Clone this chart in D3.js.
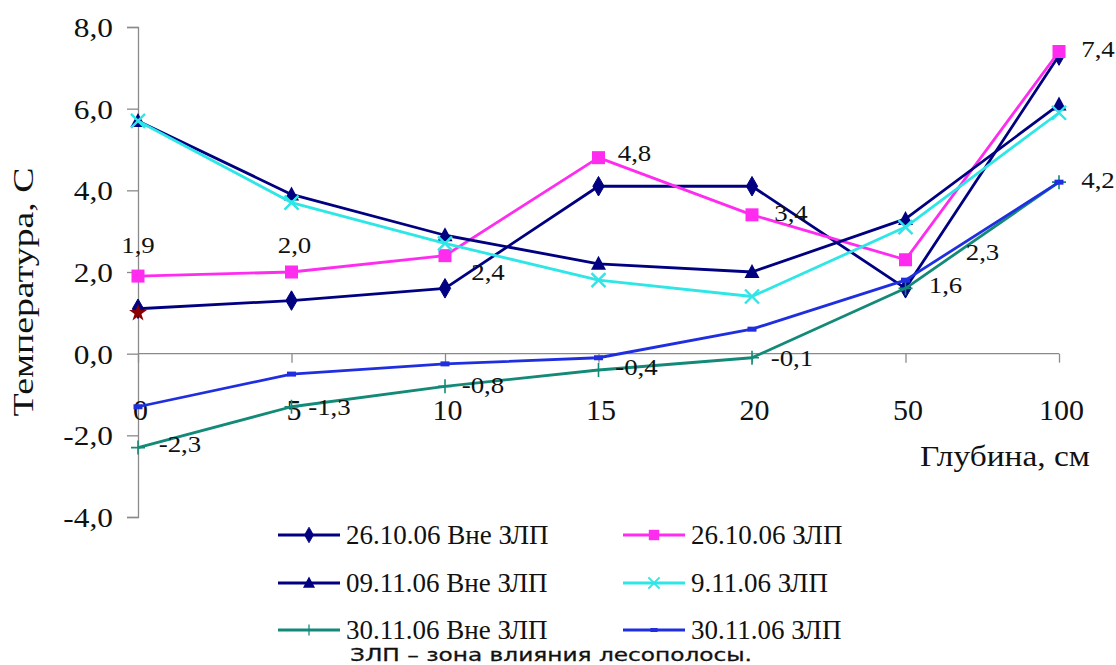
<!DOCTYPE html>
<html>
<head>
<meta charset="utf-8">
<script src="https://cdn.jsdelivr.net/npm/d3@7/dist/d3.min.js"></script>
<style>
  html, body { margin: 0; padding: 0; background: #ffffff; }
  svg { display: block; }
</style>
</head>
<body>
<svg id="chart" width="1116" height="665"></svg>
<script>
// ---------------- data ----------------
const categories = ["0", "5", "10", "15", "20", "50", "100"];
const yTicks = [-4, -2, 0, 2, 4, 6, 8];

const s1Name = "26.10.06 Вне ЗЛП";
const s1Values = [1.1, 1.3, 1.6, 4.1, 4.1, 1.6, 7.3];
const s2Name = "26.10.06 ЗЛП";
const s2Values = [1.9, 2.0, 2.4, 4.8, 3.4, 2.3, 7.4];
const s3Name = "09.11.06 Вне ЗЛП";
const s3Values = [5.7, 3.9, 2.9, 2.2, 2.0, 3.3, 6.1];
const s4Name = "9.11.06 ЗЛП";
const s4Values = [5.7, 3.7, 2.7, 1.8, 1.4, 3.1, 5.9];
const s5Name = "30.11.06 Вне ЗЛП";
const s5Values = [-2.3, -1.3, -0.8, -0.4, -0.1, 1.6, 4.2];
const s6Name = "30.11.06 ЗЛП";
const s6Values = [-1.3, -0.5, -0.25, -0.1, 0.6, 1.8, 4.2];
// stray marker at depth 0
const extraCategory = ["0"];
const extraValues = [1.0];

const yTitle = "Температура, С";
const xTitle = "Глубина, см";
const noteText = "ЗЛП – зона влияния лесополосы.";

// which points carry a data label (series id, point index)
const labelSeries = ["s2","s2","s2","s2","s2","s2","s2","s1","s5","s5","s5","s5","s5","s5"];
const labelIndex  = [0, 1, 2, 3, 4, 5, 6, 5, 0, 1, 2, 3, 4, 6];

// ---------------- styles / layout ----------------
const serif = "'Liberation Serif', 'Times New Roman', serif";
const styles = {
  s1: {color: "#000080", marker: "diamond"},
  s2: {color: "#ff2cf0", marker: "square"},
  s3: {color: "#000080", marker: "triangle"},
  s4: {color: "#2ee6e6", marker: "x"},
  s5: {color: "#138a78", marker: "plus"},
  s6: {color: "#1f2fe0", marker: "dash"}
};
// label offsets of label centre relative to point (dx, dy)
const labelOffsets = [[0,-31],[3,-27],[43,16],[36,-5],[39,-2],[77,-8],[39,-3],[40,-3],[42,-4],[38,0],[38,-1],[38,-3],[40,0],[39,-2]];

const series = [
  {id: "s1", name: s1Name, values: s1Values},
  {id: "s2", name: s2Name, values: s2Values},
  {id: "s3", name: s3Name, values: s3Values},
  {id: "s4", name: s4Name, values: s4Values},
  {id: "s5", name: s5Name, values: s5Values},
  {id: "s6", name: s6Name, values: s6Values}
];

const fmt = v => d3.format(".1f")(v).replace(".", ",").replace("\u2212", "-");

const svg = d3.select("#chart");
svg.append("rect").attr("width", 1116).attr("height", 665).attr("fill", "#fff");

const x = d3.scalePoint().domain(categories).range([138, 1059]).padding(0);
const y = d3.scaleLinear().domain([-4, 8]).range([517, 27]);

function stretch(sel, f) {
  sel.each(function() {
    const w = this.getComputedTextLength();
    d3.select(this).attr("textLength", w * f).attr("lengthAdjust", "spacingAndGlyphs");
  });
}

const axisColor = "#8a8a8a";

// Y axis
const yAxis = svg.append("g").attr("transform", "translate(138,0)")
  .call(d3.axisLeft(y).tickValues(yTicks).tickSize(11).tickPadding(14).tickFormat(fmt));
yAxis.select(".domain").attr("stroke", axisColor).attr("stroke-width", 1.3);
yAxis.selectAll(".tick line").attr("stroke", axisColor).attr("stroke-width", 1.3);
yAxis.selectAll(".tick text").attr("font-family", serif).attr("font-size", 28)
  .attr("fill", "#111").attr("dy", "0.34em");
stretch(yAxis.selectAll(".tick text"), 1.12);

// X axis (at y = 0)
const xAxis = svg.append("g").attr("transform", `translate(0,${y(0)})`)
  .call(d3.axisBottom(x).tickSize(9).tickPadding(0));
xAxis.select(".domain").attr("stroke", axisColor).attr("stroke-width", 1.3)
  .attr("d", `M${x(categories[0])},0H${x(categories[categories.length-1])}`);
xAxis.selectAll(".tick line").attr("stroke", axisColor).attr("stroke-width", 1.3);
xAxis.selectAll(".tick text").attr("font-family", serif).attr("font-size", 30)
  .attr("fill", "#111").attr("y", 0).attr("dy", 0)
  .attr("transform", `translate(2,${420 - y(0)})`);

// axis titles
svg.append("text").attr("font-family", serif).attr("font-size", 29).attr("fill", "#111")
  .attr("text-anchor", "middle")
  .attr("transform", "translate(33,292) rotate(-90)")
  .attr("textLength", 249).attr("lengthAdjust", "spacingAndGlyphs")
  .text(yTitle);
svg.append("text").attr("font-family", serif).attr("font-size", 30).attr("fill", "#111")
  .attr("x", 920).attr("y", 466)
  .attr("textLength", 170).attr("lengthAdjust", "spacingAndGlyphs")
  .text(xTitle);

// markers
function drawMarker(g, type, color) {
  if (type === "diamond") {
    g.append("path").attr("d", d3.symbol(d3.symbolDiamond, 110)()).attr("fill", color).attr("stroke", color);
  } else if (type === "square") {
    g.append("rect").attr("x", -6.5).attr("y", -6.5).attr("width", 13).attr("height", 13).attr("fill", color);
  } else if (type === "triangle") {
    g.append("path").attr("d", "M0,-8L7.5,6L-7.5,6Z").attr("fill", color);
  } else if (type === "x") {
    g.append("path").attr("d", "M-7,-7L7,7M-7,7L7,-7").attr("stroke", color).attr("stroke-width", 2.4).attr("fill", "none");
  } else if (type === "plus") {
    g.append("path").attr("d", "M-7,0L7,0M0,-7L0,7").attr("stroke", color).attr("stroke-width", 1.6).attr("fill", "none");
  } else if (type === "dash") {
    g.append("rect").attr("x", -4.5).attr("y", -2.5).attr("width", 9).attr("height", 5).attr("fill", color);
  }
}

const line = d3.line().x((d, i) => x(categories[i])).y(d => y(d));

series.forEach(s => {
  const st = styles[s.id];
  const g = svg.append("g");
  g.append("path").datum(s.values).attr("d", line).attr("fill", "none")
    .attr("stroke", st.color).attr("stroke-width", 2.8).attr("stroke-linejoin", "round");
  s.values.forEach((v, i) => {
    const mg = g.append("g").attr("transform", `translate(${x(categories[i])},${y(v)})`);
    drawMarker(mg, st.marker, st.color);
  });
});

// stray dark-red marker
extraValues.forEach((v, i) => {
  svg.append("path").attr("d", d3.symbol(d3.symbolStar, 100)())
    .attr("transform", `translate(${x(extraCategory[i])},${y(v)})`)
    .attr("fill", "#8b0000");
});

// data labels
const byId = {};
series.forEach(s => byId[s.id] = s);
const labels = svg.append("g");
labelSeries.forEach((sid, k) => {
  const i = labelIndex[k];
  const v = byId[sid].values[i];
  const [dx, dy] = labelOffsets[k];
  labels.append("text").attr("font-family", serif).attr("font-size", 24).attr("fill", "#111")
    .attr("text-anchor", "middle")
    .attr("x", x(categories[i]) + dx).attr("y", y(v) + dy + 8)
    .text(fmt(v));
});
stretch(labels.selectAll("text"), 1.12);

// legend
const legendCols = [278, 623];
const legendRows = [535, 583, 630];
const legend = svg.append("g");
series.forEach((s, k) => {
  const st = styles[s.id];
  const col = k % 2, row = Math.floor(k / 2);
  const lx = legendCols[col], ly = legendRows[row];
  const g = legend.append("g").attr("transform", `translate(${lx},${ly})`);
  g.append("line").attr("x1", 0).attr("x2", 62).attr("y1", 0).attr("y2", 0)
    .attr("stroke", st.color).attr("stroke-width", 2.8);
  const mg = g.append("g").attr("transform", "translate(31,0) scale(0.8)");
  drawMarker(mg, st.marker, st.color);
  g.append("text").attr("x", 68).attr("y", 9).attr("font-family", serif).attr("font-size", 27)
    .attr("fill", "#111").text(s.name);
});

// note
svg.append("text").attr("x", 350).attr("y", 661)
  .attr("font-family", "'DejaVu Sans', Verdana, sans-serif").attr("font-size", 18)
  .attr("fill", "#111").attr("stroke", "#111").attr("stroke-width", 0.3)
  .attr("textLength", 402).attr("lengthAdjust", "spacingAndGlyphs")
  .text(noteText);
</script>
</body>
</html>
